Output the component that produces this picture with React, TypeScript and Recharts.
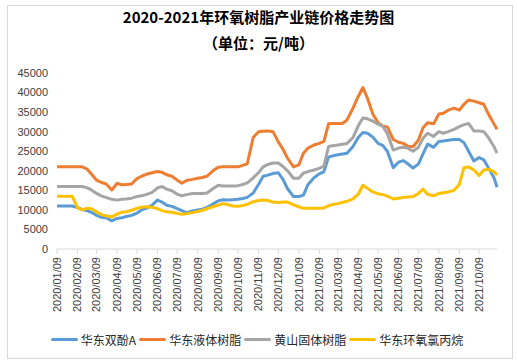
import { Legend, Line, LineChart, XAxis, YAxis } from "recharts";

// sample dates (roughly weekly), 元/吨
const DATES = [
  "2020/01/09", "2020/01/16", "2020/01/23", "2020/02/01",
  "2020/02/09", "2020/02/16", "2020/02/23", "2020/03/01",
  "2020/03/09", "2020/03/16", "2020/03/23", "2020/04/01",
  "2020/04/09", "2020/04/16", "2020/04/23", "2020/05/01",
  "2020/05/09", "2020/05/16", "2020/05/23", "2020/06/01",
  "2020/06/09", "2020/06/16", "2020/06/23", "2020/07/01",
  "2020/07/09", "2020/07/16", "2020/07/23", "2020/08/01",
  "2020/08/09", "2020/08/16", "2020/08/23", "2020/09/01",
  "2020/09/09", "2020/09/16", "2020/09/23", "2020/10/01",
  "2020/10/09", "2020/10/16", "2020/10/23", "2020/11/01",
  "2020/11/09", "2020/11/16", "2020/11/23", "2020/12/01",
  "2020/12/09", "2020/12/16", "2020/12/23", "2021/01/01",
  "2021/01/09", "2021/01/16", "2021/01/23", "2021/02/01",
  "2021/02/09", "2021/02/16", "2021/02/23", "2021/03/01",
  "2021/03/09", "2021/03/16", "2021/03/23", "2021/04/01",
  "2021/04/09", "2021/04/16", "2021/04/23", "2021/05/01",
  "2021/05/09", "2021/05/16", "2021/05/23", "2021/06/01",
  "2021/06/09", "2021/06/16", "2021/06/23", "2021/07/01",
  "2021/07/09", "2021/07/16", "2021/07/23", "2021/08/01",
  "2021/08/09", "2021/08/16", "2021/08/23", "2021/09/01",
  "2021/09/09", "2021/09/16", "2021/09/23", "2021/10/01",
  "2021/10/09", "2021/10/16", "2021/10/23", "2021/11/01",
  "2021/11/05",
];

const BPA = [
  11000, 11000, 11000, 11000, 10600, 10100, 9800, 9400, 8600, 8100,
  8000, 7200, 7800, 8000, 8300, 8600, 9200, 10000, 10400, 11200,
  12500, 12000, 11200, 10900, 10300, 9800, 9300, 9700, 10000, 10200,
  10600, 11500, 12300, 12600, 12500, 12600, 12700, 12900, 13200, 14300,
  16500, 18600, 18900, 19300, 19500, 17800, 15400, 13400, 13400, 13800,
  16500, 18200, 19200, 19800, 23500, 23800, 24100, 24300, 24500, 26200,
  28500, 29800, 29600, 28600, 27000, 26500, 25000, 20800, 22200, 22600,
  21800, 20700, 21700, 24300, 26800, 26000, 27500, 27600, 27800, 28000,
  28000, 27200, 25000, 22500, 23400, 22800, 20800, 18000, 15800,
];

const LIQUID_RESIN = [
  21000, 21000, 21000, 21000, 21000, 21000, 20500, 19200, 17600, 17000,
  16700, 15100, 16800, 16400, 16500, 16600, 18000, 18600, 19100, 19500,
  19800, 19600, 19000, 18600, 17600, 16800, 17500, 17800, 18100, 18300,
  18600, 20000, 20900, 21000, 21000, 21000, 21000, 21400, 21800, 28500,
  30000, 30100, 30200, 30000, 27400, 25500, 23200, 21000, 21500, 24500,
  25800, 26600, 27000, 27500, 32000, 32100, 32100, 32100, 33000, 36000,
  39000, 41300, 38500, 34500, 32300, 31400, 31200, 28000, 27300, 27000,
  26300, 26200, 27800, 31000, 32300, 32000, 34500, 34700, 35500, 36000,
  35500, 37000, 38100, 37800, 37400, 37000, 34500, 31800, 30600,
];

const SOLID_RESIN = [
  16000, 16000, 16000, 16000, 16000, 16000, 15700, 15100, 14200, 13600,
  13200, 12700, 12500, 12700, 12800, 13000, 13400, 13600, 13900, 14500,
  15600, 16000, 15300, 14900, 14000, 13600, 13900, 14200, 14200, 14200,
  14300, 15400, 16300, 16100, 16100, 16100, 16200, 16500, 16900, 18200,
  19500, 21000, 21600, 22000, 22000, 21100, 20000, 18100, 18100, 19400,
  19800, 20200, 20600, 21200, 26200, 26400, 26600, 26800, 27000, 28500,
  31500, 33500, 33300, 32700, 31900, 31400, 29500, 25300, 25800, 26000,
  25800, 25000, 26000, 28300, 29600, 28800, 30000, 29600, 30000, 30600,
  31300, 31800, 32100, 30200, 30200, 30000, 28500, 26000, 24500,
];

const ECH = [
  13500, 13500, 13500, 13500, 10600, 10000, 10400, 10300, 9500, 8800,
  8500, 8200, 8900, 9400, 9500, 9900, 10400, 10700, 10800, 10700,
  10300, 9800, 9500, 9400, 9100, 8900, 9000, 9300, 9600, 9900,
  10300, 10800, 11200, 11600, 11400, 11000, 10900, 11100, 11400, 12100,
  12400, 12500, 12400, 12000, 11900, 12000, 12000, 11300, 10800, 10400,
  10400, 10400, 10400, 10500, 11000, 11400, 11600, 11900, 12200, 12800,
  14000, 16300, 15500, 14600, 14100, 13900, 13500, 12800, 13000, 13200,
  13300, 13400, 14200, 15300, 14000, 13600, 14200, 14400, 14600, 15000,
  16500, 20800, 21000, 20200, 18800, 20200, 20400, 19700, 18900,
];

const TICK_LABELS = [
  "2020/01/09", "2020/02/09", "2020/03/09", "2020/04/09", "2020/05/09",
  "2020/06/09", "2020/07/09", "2020/08/09", "2020/09/09", "2020/10/09",
  "2020/11/09", "2020/12/09", "2021/01/09", "2021/02/09", "2021/03/09",
  "2021/04/09", "2021/05/09", "2021/06/09", "2021/07/09", "2021/08/09",
  "2021/09/09", "2021/10/09",
];

const Y_TICKS = [0, 5000, 10000, 15000, 20000, 25000, 30000, 35000, 40000, 45000];

const SERIES = [
  { key: "bpa", name: "华东双酚A", color: "#5B9BD5", values: BPA },
  { key: "liquid", name: "华东液体树脂", color: "#ED7D31", values: LIQUID_RESIN },
  { key: "solid", name: "黄山固体树脂", color: "#A5A5A5", values: SOLID_RESIN },
  { key: "ech", name: "华东环氧氯丙烷", color: "#FFC000", values: ECH },
];

const CJK = '"Noto Sans CJK SC", "Microsoft YaHei", sans-serif';
const NUM = '"Liberation Sans", Arial, sans-serif';
const TEXT = "#404040";

const START = Date.UTC(2020, 0, 9);
const toDay = (s: string) => {
  const [y, m, d] = s.split("/").map(Number);
  return Math.round((Date.UTC(y, m - 1, d) - START) / 86400000);
};

const data = DATES.map((date, i) => {
  const row: Record<string, number | string> = { t: toDay(date), date };
  SERIES.forEach((s) => {
    row[s.key] = s.values[i];
  });
  return row;
});

const tickDays = TICK_LABELS.map(toDay);
const labelByDay: Record<number, string> = {};
TICK_LABELS.forEach((l) => {
  labelByDay[toDay(l)] = l;
});

const DateTick = ({ x, y, payload }: any) => (
  <text
    x={x}
    y={y}
    transform={`rotate(-90, ${x}, ${y})`}
    textAnchor="end"
    dy="0.35em"
    fontSize={11}
    fontFamily={NUM}
    fill={TEXT}
  >
    {labelByDay[payload.value]}
  </text>
);

const LegendContent = () => (
  <div
    style={{
      display: "flex",
      justifyContent: "center",
      alignItems: "center",
      height: 20,
      fontSize: 12,
      fontFamily: CJK,
      color: "#262626",
      whiteSpace: "nowrap",
    }}
  >
    {SERIES.map((s) => (
      <span key={s.key} style={{ display: "flex", alignItems: "center", marginRight: 3 }}>
        <span
          style={{
            display: "inline-block",
            width: 27,
            height: 3,
            background: s.color,
            borderRadius: 1.5,
            marginRight: 3,
          }}
        />
        {s.name}
      </span>
    ))}
  </div>
);

export default function App() {
  return (
    <div style={{ position: "absolute", left: 0, top: 0, width: 517, height: 364, background: "#fff" }}>
      <div
        style={{
          position: "absolute",
          left: 7,
          top: 5,
          width: 504,
          height: 352,
          border: "1px solid #d9d9d9",
        }}
      />
      <div
        style={{
          position: "absolute",
          left: 0,
          width: 517,
          top: 6,
          lineHeight: "22px",
          textAlign: "center",
          fontFamily: CJK,
          fontWeight: 700,
          fontSize: 15,
          color: "#000",
        }}
      >
        2020-2021年环氧树脂产业链价格走势图
      </div>
      <div
        style={{
          position: "absolute",
          left: 0,
          width: 517,
          top: 32,
          lineHeight: "22px",
          textAlign: "center",
          fontFamily: CJK,
          fontWeight: 700,
          fontSize: 15,
          color: "#000",
        }}
      >
        （单位：元/吨）
      </div>
      <div style={{ position: "absolute", left: 0, top: 0 }}>
        <LineChart
          width={517}
          height={364}
          data={data}
          margin={{ top: 73, right: 20, left: 7, bottom: 35 }}
        >
          <XAxis
            dataKey="t"
            type="number"
            domain={[0, toDay(DATES[DATES.length - 1])]}
            ticks={tickDays}
            interval={0}
            height={80}
            stroke="#d9d9d9"
            tickSize={5}
            tickMargin={3}
            tick={<DateTick />}
          />
          <YAxis
            type="number"
            domain={[0, 45000]}
            ticks={Y_TICKS}
            interval={0}
            width={50}
            axisLine={false}
            tickLine={false}
            tickMargin={3}
            tick={{ fontSize: 11, fontFamily: NUM, fill: TEXT }}
          />
          {SERIES.map((s) => (
            <Line
              key={s.key}
              dataKey={s.key}
              name={s.name}
              type="linear"
              stroke={s.color}
              strokeWidth={3}
              strokeLinejoin="round"
              dot={false}
              isAnimationActive={false}
            />
          ))}
          <Legend
            layout="horizontal"
            align="center"
            verticalAlign="middle"
            content={<LegendContent />}
            wrapperStyle={{ top: 329, left: 0, width: 517, height: 20 }}
          />
        </LineChart>
      </div>
    </div>
  );
}
